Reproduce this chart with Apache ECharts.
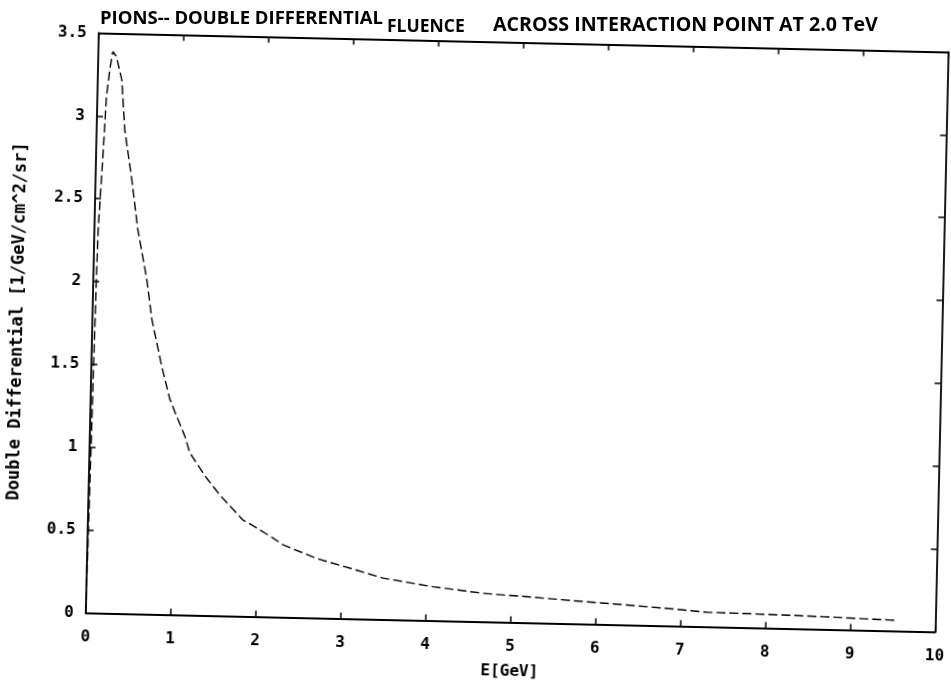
<!DOCTYPE html>
<html>
<head>
<meta charset="utf-8">
<script src="https://cdn.jsdelivr.net/npm/echarts@6/dist/echarts.min.js"></script>
<style>
  html, body { margin: 0; padding: 0; background: #fff; }
  #wrap { position: relative; width: 951px; height: 683px; overflow: hidden; background: #fff; }
  #plot, #head { position: absolute; left: 0; top: 0; width: 951px; height: 683px; }
  /* the scanned plot sits slightly tilted on the page */
  #plot { transform: rotate(1.283deg); transform-origin: 50% 50%; }
  #head { pointer-events: none; }
</style>
</head>
<body>
<div id="wrap">
  <div id="plot"></div>
  <div id="head"></div>
</div>
<script>
// Pion double differential fluence vs. energy
const energyGeV = [0, 0.034, 0.044, 0.078, 0.107, 0.139, 0.17, 0.214, 0.283, 0.331,
  0.427, 0.511, 0.63, 0.70, 0.782, 0.827, 0.933, 1.016, 1.119, 1.182,
  1.385, 1.546, 1.828, 1.908, 2.186, 2.306, 2.70, 3.10, 3.49, 4.08,
  4.67, 5.26, 5.73, 6.36, 6.95, 7.31, 7.97, 8.68, 9.45, 9.55];
const fluence = [0, 1.91, 2.31, 2.72, 3.12, 3.28, 3.39, 3.36, 3.22, 2.92,
  2.62, 2.32, 2.02, 1.78, 1.60, 1.50, 1.30, 1.20, 1.08, 0.98,
  0.83, 0.73, 0.58, 0.56, 0.476, 0.437, 0.36, 0.305, 0.25, 0.205,
  0.172, 0.155, 0.14, 0.121, 0.102, 0.088, 0.084, 0.077, 0.066, 0.065];

const titleParts = ['PIONS-- DOUBLE DIFFERENTIAL', 'FLUENCE', 'ACROSS INTERACTION POINT AT 2.0 TeV'];
const xName = 'E[GeV]';
const yName = 'Double Differential [1/GeV/cm^2/sr]';
const xRange = [0, 10, 1];
const yRange = [0, 3.5, 0.5];

const mono = 'DejaVu Sans Mono';
const ink = '#000';

function frameAxis(range, position, showLabels, name) {
  return {
    type: 'value',
    position: position,
    min: range[0], max: range[1], interval: range[2],
    name: name || '',
    nameLocation: 'middle',
    nameGap: position === 'bottom' ? 41 : 66,
    nameTextStyle: { fontFamily: mono, fontWeight: 'bold', fontSize: position === 'bottom' ? 16 : 17, color: ink },
    axisLine: { show: true, onZero: false, lineStyle: { color: ink, width: 1.8 } },
    axisTick: { show: true, inside: true, length: 6, lineStyle: { color: ink, width: 1.5 } },
    axisLabel: {
      show: showLabels,
      margin: position === 'bottom' ? 16 : 12,
      fontFamily: mono, fontWeight: 'bold', fontSize: 16, color: ink
    },
    splitLine: { show: false }
  };
}

const plot = echarts.init(document.getElementById('plot'), null, { renderer: 'canvas' });
plot.setOption({
  backgroundColor: 'transparent',
  animation: false,
  grid: { left: 92, top: 41.5, right: 9.6, bottom: 61.4, containLabel: false, outerBoundsMode: 'none' },
  xAxis: [
    frameAxis(xRange, 'bottom', true, xName),
    frameAxis(xRange, 'top', false)
  ],
  yAxis: [
    frameAxis(yRange, 'left', true, yName),
    frameAxis(yRange, 'right', false)
  ],
  series: [{
    type: 'line',
    data: energyGeV.map((e, i) => [e, fluence[i]]),
    showSymbol: false,
    smooth: false,
    lineStyle: { color: ink, width: 1.4, type: [9, 4] }
  }]
});

const head = echarts.init(document.getElementById('head'), null, { renderer: 'canvas' });
const titleStyle = (size) => ({ fontFamily: 'Open Sans', fontWeight: 'bold', fontSize: size, color: ink });
head.setOption({
  backgroundColor: 'transparent',
  animation: false,
  title: [
    { text: titleParts[0], left: 100, top: 9, padding: 0, textStyle: titleStyle(18.5) },
    { text: titleParts[1], left: 387, top: 18, padding: 0, textStyle: titleStyle(17.5) },
    { text: titleParts[2], left: 493, top: 15, padding: 0, textStyle: titleStyle(19.6) }
  ]
});
</script>
</body>
</html>
